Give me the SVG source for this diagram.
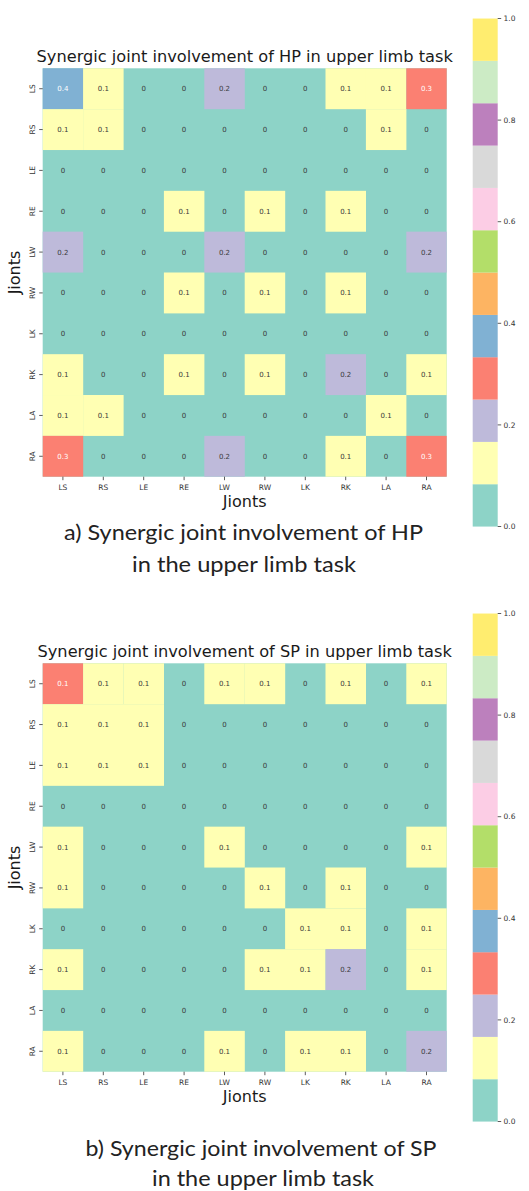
<svg xmlns="http://www.w3.org/2000/svg" width="529" height="1191" viewBox="0 0 529 1191">
<style>
text{font-family:"DejaVu Sans",sans-serif;fill:#262626}
.t{font-size:16.2px;text-anchor:middle;fill:#1a1a1a}
.al{font-size:16px;text-anchor:middle;fill:#1a1a1a}
.tk{font-size:7.5px;text-anchor:middle;fill:#333}
.cb{font-size:7.5px;fill:#333}
.v{font-size:7px;text-anchor:middle;fill:#3a3a3a}
.w{fill:#ffffff}
.cap{font-family:Lato,"Open Sans",sans-serif;font-size:21px;text-anchor:middle;fill:#222}
.c0{fill:#8dd3c7}.c1{fill:#ffffb3}.c2{fill:#bebada}.c3{fill:#fb8072}.c4{fill:#80b1d3}
.tl{stroke:#333;stroke-width:0.8}
</style>
<defs>
<g id="colorbar">
<rect x="472.7" y="484.17" width="25" height="42.4" fill="#8dd3c7"/>
<rect x="472.7" y="441.84" width="25" height="42.4" fill="#ffffb3"/>
<rect x="472.7" y="399.51" width="25" height="42.4" fill="#bebada"/>
<rect x="472.7" y="357.18" width="25" height="42.4" fill="#fb8072"/>
<rect x="472.7" y="314.85" width="25" height="42.4" fill="#80b1d3"/>
<rect x="472.7" y="272.52" width="25" height="42.4" fill="#fdb462"/>
<rect x="472.7" y="230.19" width="25" height="42.4" fill="#b3de69"/>
<rect x="472.7" y="187.86" width="25" height="42.4" fill="#fccde5"/>
<rect x="472.7" y="145.53" width="25" height="42.4" fill="#d9d9d9"/>
<rect x="472.7" y="103.2" width="25" height="42.4" fill="#bc80bd"/>
<rect x="472.7" y="60.87" width="25" height="42.4" fill="#ccebc5"/>
<rect x="472.7" y="18.54" width="25" height="42.33" fill="#ffed6f"/>
<g class="tl">
<line x1="497.7" y1="526.5" x2="501.2" y2="526.5"/>
<line x1="497.7" y1="424.9" x2="501.2" y2="424.9"/>
<line x1="497.7" y1="323.3" x2="501.2" y2="323.3"/>
<line x1="497.7" y1="221.7" x2="501.2" y2="221.7"/>
<line x1="497.7" y1="120.1" x2="501.2" y2="120.1"/>
<line x1="497.7" y1="18.5" x2="501.2" y2="18.5"/>
</g>
<text class="cb" x="503.5" y="529.2">0.0</text>
<text class="cb" x="503.5" y="427.6">0.2</text>
<text class="cb" x="503.5" y="326">0.4</text>
<text class="cb" x="503.5" y="224.4">0.6</text>
<text class="cb" x="503.5" y="122.8">0.8</text>
<text class="cb" x="503.5" y="21.2">1.0</text>
</g>
<g id="axes">
<g class="tl">
<line x1="39.2" y1="88.72" x2="42.7" y2="88.72"/>
<line x1="39.2" y1="129.56" x2="42.7" y2="129.56"/>
<line x1="39.2" y1="170.4" x2="42.7" y2="170.4"/>
<line x1="39.2" y1="211.24" x2="42.7" y2="211.24"/>
<line x1="39.2" y1="252.08" x2="42.7" y2="252.08"/>
<line x1="39.2" y1="292.92" x2="42.7" y2="292.92"/>
<line x1="39.2" y1="333.76" x2="42.7" y2="333.76"/>
<line x1="39.2" y1="374.6" x2="42.7" y2="374.6"/>
<line x1="39.2" y1="415.44" x2="42.7" y2="415.44"/>
<line x1="39.2" y1="456.28" x2="42.7" y2="456.28"/>
<line x1="62.9" y1="476.7" x2="62.9" y2="480.2"/>
<line x1="103.3" y1="476.7" x2="103.3" y2="480.2"/>
<line x1="143.7" y1="476.7" x2="143.7" y2="480.2"/>
<line x1="184.1" y1="476.7" x2="184.1" y2="480.2"/>
<line x1="224.5" y1="476.7" x2="224.5" y2="480.2"/>
<line x1="264.9" y1="476.7" x2="264.9" y2="480.2"/>
<line x1="305.3" y1="476.7" x2="305.3" y2="480.2"/>
<line x1="345.7" y1="476.7" x2="345.7" y2="480.2"/>
<line x1="386.1" y1="476.7" x2="386.1" y2="480.2"/>
<line x1="426.5" y1="476.7" x2="426.5" y2="480.2"/>
</g>
<text class="tk" transform="translate(34.5,88.72) rotate(-90)">LS</text>
<text class="tk" transform="translate(34.5,129.56) rotate(-90)">RS</text>
<text class="tk" transform="translate(34.5,170.4) rotate(-90)">LE</text>
<text class="tk" transform="translate(34.5,211.24) rotate(-90)">RE</text>
<text class="tk" transform="translate(34.5,252.08) rotate(-90)">LW</text>
<text class="tk" transform="translate(34.5,292.92) rotate(-90)">RW</text>
<text class="tk" transform="translate(34.5,333.76) rotate(-90)">LK</text>
<text class="tk" transform="translate(34.5,374.6) rotate(-90)">RK</text>
<text class="tk" transform="translate(34.5,415.44) rotate(-90)">LA</text>
<text class="tk" transform="translate(34.5,456.28) rotate(-90)">RA</text>
<text class="tk" x="62.9" y="490">LS</text>
<text class="tk" x="103.3" y="490">RS</text>
<text class="tk" x="143.7" y="490">LE</text>
<text class="tk" x="184.1" y="490">RE</text>
<text class="tk" x="224.5" y="490">LW</text>
<text class="tk" x="264.9" y="490">RW</text>
<text class="tk" x="305.3" y="490">LK</text>
<text class="tk" x="345.7" y="490">RK</text>
<text class="tk" x="386.1" y="490">LA</text>
<text class="tk" x="426.5" y="490">RA</text>
<text class="al" x="244.7" y="507.3">Jionts</text>
<text class="al" transform="translate(19.8,272.5) rotate(-90)">Jionts</text>
</g>
</defs>

<g id="chart-hp">
<text class="t" x="244.7" y="62.3">Synergic joint involvement of HP in upper limb task</text>
<g id="cells-hp">
<rect class="c0" x="42.7" y="68.3" width="404" height="408.4"/>
<rect class="c4" x="42.7" y="68.3" width="40.5" height="40.9"/>
<rect class="c1" x="83.1" y="68.3" width="40.5" height="40.9"/>
<rect class="c2" x="204.3" y="68.3" width="40.5" height="40.9"/>
<rect class="c1" x="325.5" y="68.3" width="40.5" height="40.9"/>
<rect class="c1" x="365.9" y="68.3" width="40.5" height="40.9"/>
<rect class="c3" x="406.3" y="68.3" width="40.4" height="40.9"/>
<rect class="c1" x="42.7" y="109.14" width="40.5" height="40.9"/>
<rect class="c1" x="83.1" y="109.14" width="40.5" height="40.9"/>
<rect class="c1" x="365.9" y="109.14" width="40.5" height="40.9"/>
<rect class="c1" x="163.9" y="190.82" width="40.5" height="40.9"/>
<rect class="c1" x="244.7" y="190.82" width="40.5" height="40.9"/>
<rect class="c1" x="325.5" y="190.82" width="40.5" height="40.9"/>
<rect class="c2" x="42.7" y="231.66" width="40.5" height="40.9"/>
<rect class="c2" x="204.3" y="231.66" width="40.5" height="40.9"/>
<rect class="c2" x="406.3" y="231.66" width="40.4" height="40.9"/>
<rect class="c1" x="163.9" y="272.5" width="40.5" height="40.9"/>
<rect class="c1" x="244.7" y="272.5" width="40.5" height="40.9"/>
<rect class="c1" x="325.5" y="272.5" width="40.5" height="40.9"/>
<rect class="c1" x="42.7" y="354.18" width="40.5" height="40.9"/>
<rect class="c1" x="163.9" y="354.18" width="40.5" height="40.9"/>
<rect class="c1" x="244.7" y="354.18" width="40.5" height="40.9"/>
<rect class="c2" x="325.5" y="354.18" width="40.5" height="40.9"/>
<rect class="c1" x="406.3" y="354.18" width="40.4" height="40.9"/>
<rect class="c1" x="42.7" y="395.02" width="40.5" height="40.9"/>
<rect class="c1" x="83.1" y="395.02" width="40.5" height="40.9"/>
<rect class="c1" x="365.9" y="395.02" width="40.5" height="40.9"/>
<rect class="c3" x="42.7" y="435.86" width="40.5" height="40.84"/>
<rect class="c2" x="204.3" y="435.86" width="40.5" height="40.84"/>
<rect class="c1" x="325.5" y="435.86" width="40.5" height="40.84"/>
<rect class="c3" x="406.3" y="435.86" width="40.4" height="40.84"/>
</g>
<g id="values-hp">
<text class="v w" x="62.9" y="91.2">0.4</text><text class="v" x="103.3" y="91.2">0.1</text><text class="v" x="143.7" y="91.2">0</text><text class="v" x="184.1" y="91.2">0</text><text class="v" x="224.5" y="91.2">0.2</text><text class="v" x="264.9" y="91.2">0</text><text class="v" x="305.3" y="91.2">0</text><text class="v" x="345.7" y="91.2">0.1</text><text class="v" x="386.1" y="91.2">0.1</text><text class="v w" x="426.5" y="91.2">0.3</text>
<text class="v" x="62.9" y="132.1">0.1</text><text class="v" x="103.3" y="132.1">0.1</text><text class="v" x="143.7" y="132.1">0</text><text class="v" x="184.1" y="132.1">0</text><text class="v" x="224.5" y="132.1">0</text><text class="v" x="264.9" y="132.1">0</text><text class="v" x="305.3" y="132.1">0</text><text class="v" x="345.7" y="132.1">0</text><text class="v" x="386.1" y="132.1">0.1</text><text class="v" x="426.5" y="132.1">0</text>
<text class="v" x="62.9" y="172.9">0</text><text class="v" x="103.3" y="172.9">0</text><text class="v" x="143.7" y="172.9">0</text><text class="v" x="184.1" y="172.9">0</text><text class="v" x="224.5" y="172.9">0</text><text class="v" x="264.9" y="172.9">0</text><text class="v" x="305.3" y="172.9">0</text><text class="v" x="345.7" y="172.9">0</text><text class="v" x="386.1" y="172.9">0</text><text class="v" x="426.5" y="172.9">0</text>
<text class="v" x="62.9" y="213.7">0</text><text class="v" x="103.3" y="213.7">0</text><text class="v" x="143.7" y="213.7">0</text><text class="v" x="184.1" y="213.7">0.1</text><text class="v" x="224.5" y="213.7">0</text><text class="v" x="264.9" y="213.7">0.1</text><text class="v" x="305.3" y="213.7">0</text><text class="v" x="345.7" y="213.7">0.1</text><text class="v" x="386.1" y="213.7">0</text><text class="v" x="426.5" y="213.7">0</text>
<text class="v" x="62.9" y="254.6">0.2</text><text class="v" x="103.3" y="254.6">0</text><text class="v" x="143.7" y="254.6">0</text><text class="v" x="184.1" y="254.6">0</text><text class="v" x="224.5" y="254.6">0.2</text><text class="v" x="264.9" y="254.6">0</text><text class="v" x="305.3" y="254.6">0</text><text class="v" x="345.7" y="254.6">0</text><text class="v" x="386.1" y="254.6">0</text><text class="v" x="426.5" y="254.6">0.2</text>
<text class="v" x="62.9" y="295.4">0</text><text class="v" x="103.3" y="295.4">0</text><text class="v" x="143.7" y="295.4">0</text><text class="v" x="184.1" y="295.4">0.1</text><text class="v" x="224.5" y="295.4">0</text><text class="v" x="264.9" y="295.4">0.1</text><text class="v" x="305.3" y="295.4">0</text><text class="v" x="345.7" y="295.4">0.1</text><text class="v" x="386.1" y="295.4">0</text><text class="v" x="426.5" y="295.4">0</text>
<text class="v" x="62.9" y="336.3">0</text><text class="v" x="103.3" y="336.3">0</text><text class="v" x="143.7" y="336.3">0</text><text class="v" x="184.1" y="336.3">0</text><text class="v" x="224.5" y="336.3">0</text><text class="v" x="264.9" y="336.3">0</text><text class="v" x="305.3" y="336.3">0</text><text class="v" x="345.7" y="336.3">0</text><text class="v" x="386.1" y="336.3">0</text><text class="v" x="426.5" y="336.3">0</text>
<text class="v" x="62.9" y="377.1">0.1</text><text class="v" x="103.3" y="377.1">0</text><text class="v" x="143.7" y="377.1">0</text><text class="v" x="184.1" y="377.1">0.1</text><text class="v" x="224.5" y="377.1">0</text><text class="v" x="264.9" y="377.1">0.1</text><text class="v" x="305.3" y="377.1">0</text><text class="v" x="345.7" y="377.1">0.2</text><text class="v" x="386.1" y="377.1">0</text><text class="v" x="426.5" y="377.1">0.1</text>
<text class="v" x="62.9" y="417.9">0.1</text><text class="v" x="103.3" y="417.9">0.1</text><text class="v" x="143.7" y="417.9">0</text><text class="v" x="184.1" y="417.9">0</text><text class="v" x="224.5" y="417.9">0</text><text class="v" x="264.9" y="417.9">0</text><text class="v" x="305.3" y="417.9">0</text><text class="v" x="345.7" y="417.9">0</text><text class="v" x="386.1" y="417.9">0.1</text><text class="v" x="426.5" y="417.9">0</text>
<text class="v w" x="62.9" y="458.8">0.3</text><text class="v" x="103.3" y="458.8">0</text><text class="v" x="143.7" y="458.8">0</text><text class="v" x="184.1" y="458.8">0</text><text class="v" x="224.5" y="458.8">0.2</text><text class="v" x="264.9" y="458.8">0</text><text class="v" x="305.3" y="458.8">0</text><text class="v" x="345.7" y="458.8">0.1</text><text class="v" x="386.1" y="458.8">0</text><text class="v w" x="426.5" y="458.8">0.3</text>
</g>
<use href="#axes"/>
<use href="#colorbar"/>
<text class="cap" x="243.5" y="540" textLength="359" lengthAdjust="spacingAndGlyphs">a) Synergic joint involvement of HP</text>
<text class="cap" x="244" y="571.7" textLength="224" lengthAdjust="spacingAndGlyphs">in the upper limb task</text>
</g>

<g id="chart-sp">
<g transform="translate(0,595)">
<text class="t" x="244.7" y="62.3">Synergic joint involvement of SP in upper limb task</text>
<g id="cells-sp">
<rect class="c0" x="42.7" y="68.3" width="404" height="408.4"/>
<rect class="c3" x="42.7" y="68.3" width="40.5" height="40.9"/>
<rect class="c1" x="83.1" y="68.3" width="40.5" height="40.9"/>
<rect class="c1" x="123.5" y="68.3" width="40.5" height="40.9"/>
<rect class="c1" x="204.3" y="68.3" width="40.5" height="40.9"/>
<rect class="c1" x="244.7" y="68.3" width="40.5" height="40.9"/>
<rect class="c1" x="325.5" y="68.3" width="40.5" height="40.9"/>
<rect class="c1" x="406.3" y="68.3" width="40.4" height="40.9"/>
<rect class="c1" x="42.7" y="109.14" width="121.3" height="81.7"/>
<rect class="c1" x="42.7" y="231.66" width="40.5" height="81.7"/>
<rect class="c1" x="204.3" y="231.66" width="40.5" height="40.9"/>
<rect class="c1" x="406.3" y="231.66" width="40.4" height="40.9"/>
<rect class="c1" x="244.7" y="272.5" width="40.5" height="40.9"/>
<rect class="c1" x="325.5" y="272.5" width="40.5" height="40.9"/>
<rect class="c1" x="285.1" y="313.34" width="80.9" height="40.9"/>
<rect class="c1" x="406.3" y="313.34" width="40.4" height="40.9"/>
<rect class="c1" x="42.7" y="354.18" width="40.5" height="40.9"/>
<rect class="c1" x="244.7" y="354.18" width="80.9" height="40.9"/>
<rect class="c2" x="325.5" y="354.18" width="40.5" height="40.9"/>
<rect class="c1" x="406.3" y="354.18" width="40.4" height="40.9"/>
<rect class="c1" x="42.7" y="435.86" width="40.5" height="40.84"/>
<rect class="c1" x="204.3" y="435.86" width="40.5" height="40.84"/>
<rect class="c1" x="285.1" y="435.86" width="80.9" height="40.84"/>
<rect class="c2" x="406.3" y="435.86" width="40.4" height="40.84"/>
</g>
<g id="values-sp">
<text class="v w" x="62.9" y="91.2">0.1</text><text class="v" x="103.3" y="91.2">0.1</text><text class="v" x="143.7" y="91.2">0.1</text><text class="v" x="184.1" y="91.2">0</text><text class="v" x="224.5" y="91.2">0.1</text><text class="v" x="264.9" y="91.2">0.1</text><text class="v" x="305.3" y="91.2">0</text><text class="v" x="345.7" y="91.2">0.1</text><text class="v" x="386.1" y="91.2">0</text><text class="v" x="426.5" y="91.2">0.1</text>
<text class="v" x="62.9" y="132.1">0.1</text><text class="v" x="103.3" y="132.1">0.1</text><text class="v" x="143.7" y="132.1">0.1</text><text class="v" x="184.1" y="132.1">0</text><text class="v" x="224.5" y="132.1">0</text><text class="v" x="264.9" y="132.1">0</text><text class="v" x="305.3" y="132.1">0</text><text class="v" x="345.7" y="132.1">0</text><text class="v" x="386.1" y="132.1">0</text><text class="v" x="426.5" y="132.1">0</text>
<text class="v" x="62.9" y="172.9">0.1</text><text class="v" x="103.3" y="172.9">0.1</text><text class="v" x="143.7" y="172.9">0.1</text><text class="v" x="184.1" y="172.9">0</text><text class="v" x="224.5" y="172.9">0</text><text class="v" x="264.9" y="172.9">0</text><text class="v" x="305.3" y="172.9">0</text><text class="v" x="345.7" y="172.9">0</text><text class="v" x="386.1" y="172.9">0</text><text class="v" x="426.5" y="172.9">0</text>
<text class="v" x="62.9" y="213.7">0</text><text class="v" x="103.3" y="213.7">0</text><text class="v" x="143.7" y="213.7">0</text><text class="v" x="184.1" y="213.7">0</text><text class="v" x="224.5" y="213.7">0</text><text class="v" x="264.9" y="213.7">0</text><text class="v" x="305.3" y="213.7">0</text><text class="v" x="345.7" y="213.7">0</text><text class="v" x="386.1" y="213.7">0</text><text class="v" x="426.5" y="213.7">0</text>
<text class="v" x="62.9" y="254.6">0.1</text><text class="v" x="103.3" y="254.6">0</text><text class="v" x="143.7" y="254.6">0</text><text class="v" x="184.1" y="254.6">0</text><text class="v" x="224.5" y="254.6">0.1</text><text class="v" x="264.9" y="254.6">0</text><text class="v" x="305.3" y="254.6">0</text><text class="v" x="345.7" y="254.6">0</text><text class="v" x="386.1" y="254.6">0</text><text class="v" x="426.5" y="254.6">0.1</text>
<text class="v" x="62.9" y="295.4">0.1</text><text class="v" x="103.3" y="295.4">0</text><text class="v" x="143.7" y="295.4">0</text><text class="v" x="184.1" y="295.4">0</text><text class="v" x="224.5" y="295.4">0</text><text class="v" x="264.9" y="295.4">0.1</text><text class="v" x="305.3" y="295.4">0</text><text class="v" x="345.7" y="295.4">0.1</text><text class="v" x="386.1" y="295.4">0</text><text class="v" x="426.5" y="295.4">0</text>
<text class="v" x="62.9" y="336.3">0</text><text class="v" x="103.3" y="336.3">0</text><text class="v" x="143.7" y="336.3">0</text><text class="v" x="184.1" y="336.3">0</text><text class="v" x="224.5" y="336.3">0</text><text class="v" x="264.9" y="336.3">0</text><text class="v" x="305.3" y="336.3">0.1</text><text class="v" x="345.7" y="336.3">0.1</text><text class="v" x="386.1" y="336.3">0</text><text class="v" x="426.5" y="336.3">0.1</text>
<text class="v" x="62.9" y="377.1">0.1</text><text class="v" x="103.3" y="377.1">0</text><text class="v" x="143.7" y="377.1">0</text><text class="v" x="184.1" y="377.1">0</text><text class="v" x="224.5" y="377.1">0</text><text class="v" x="264.9" y="377.1">0.1</text><text class="v" x="305.3" y="377.1">0.1</text><text class="v" x="345.7" y="377.1">0.2</text><text class="v" x="386.1" y="377.1">0</text><text class="v" x="426.5" y="377.1">0.1</text>
<text class="v" x="62.9" y="417.9">0</text><text class="v" x="103.3" y="417.9">0</text><text class="v" x="143.7" y="417.9">0</text><text class="v" x="184.1" y="417.9">0</text><text class="v" x="224.5" y="417.9">0</text><text class="v" x="264.9" y="417.9">0</text><text class="v" x="305.3" y="417.9">0</text><text class="v" x="345.7" y="417.9">0</text><text class="v" x="386.1" y="417.9">0</text><text class="v" x="426.5" y="417.9">0</text>
<text class="v" x="62.9" y="458.8">0.1</text><text class="v" x="103.3" y="458.8">0</text><text class="v" x="143.7" y="458.8">0</text><text class="v" x="184.1" y="458.8">0</text><text class="v" x="224.5" y="458.8">0.1</text><text class="v" x="264.9" y="458.8">0</text><text class="v" x="305.3" y="458.8">0.1</text><text class="v" x="345.7" y="458.8">0.1</text><text class="v" x="386.1" y="458.8">0</text><text class="v" x="426.5" y="458.8">0.2</text>
</g>
<use href="#axes"/>
<use href="#colorbar"/>
</g>
<text class="cap" x="261" y="1156" textLength="351" lengthAdjust="spacingAndGlyphs">b) Synergic joint involvement of SP</text>
<text class="cap" x="263" y="1186" textLength="222" lengthAdjust="spacingAndGlyphs">in the upper limb task</text>
</g>
</svg>
